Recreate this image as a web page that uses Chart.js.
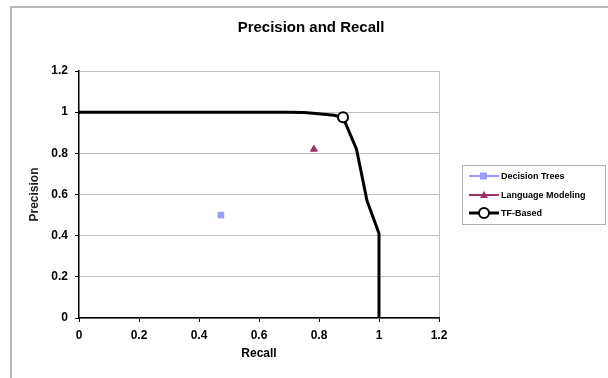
<!DOCTYPE html>
<html>
<head>
<meta charset="utf-8">
<script src="https://cdn.jsdelivr.net/npm/chart.js@4"></script>
<style>
  html, body { margin: 0; padding: 0; background: #fff; }
  #wrap { width: 608px; height: 378px; }
</style>
</head>
<body>
<div id="wrap"><canvas id="prChart" width="608" height="378"></canvas></div>
<script>
// === Data ===
const xTicks = [0, 0.2, 0.4, 0.6, 0.8, 1, 1.2];
const yTicks = [0, 0.2, 0.4, 0.6, 0.8, 1, 1.2];

const treesRecall = [0.473];
const treesPrecision = [0.50];

const lmRecall = [0.783];
const lmPrecision = [0.82];

const tfRecall = [0, 0.2, 0.4, 0.6, 0.7, 0.75, 0.78, 0.85, 0.88, 0.925, 0.96, 1.0, 1.0];
const tfPrecision = [1, 1, 1, 1, 1, 0.998, 0.995, 0.985, 0.975, 0.82, 0.57, 0.41, 0];
const tfMarked = [false, false, false, false, false, false, false, false, true, false, false, false, false];

const seriesNames = ["Decision Trees", "Language Modeling", "TF-Based"];

const FONT = "'Liberation Sans', Arial, sans-serif";

function toPoints(xs, ys) {
  return xs.map((x, i) => ({ x: x, y: ys[i] }));
}

// === Frame, title, axis titles, legend ===
const decorPlugin = {
  id: "decor",
  beforeDraw(chart) {
    const c = chart.ctx;
    c.save();
    c.strokeStyle = "#b8b8b8";
    c.lineWidth = 2;
    c.beginPath();
    c.moveTo(11, 400);
    c.lineTo(11, 7);
    c.lineTo(620, 7);
    c.stroke();
    c.restore();
  },
  afterDraw(chart) {
    const c = chart.ctx;
    const a = chart.chartArea;
    c.save();
    c.fillStyle = "#000";
    c.textAlign = "center";
    c.textBaseline = "middle";
    c.font = "bold 15px " + FONT;
    c.fillText("Precision and Recall", 311, 28);

    c.font = "bold 12px " + FONT;
    c.fillText("Recall", (a.left + a.right) / 2, 354);
    c.save();
    c.translate(35, (a.top + a.bottom) / 2);
    c.rotate(-Math.PI / 2);
    c.fillStyle = "#222";
    c.fillText("Precision", 0, 0);
    c.restore();

    // legend box
    c.strokeStyle = "#b0b0b0";
    c.lineWidth = 1;
    c.strokeRect(462.5, 165.5, 143, 59);
    c.font = "bold 9px " + FONT;
    c.textAlign = "left";
    const rows = [176, 195, 213];
    chart.data.datasets.forEach((ds, i) => {
      const y = rows[i];
      c.strokeStyle = ds.borderColor;
      c.lineWidth = i === 2 ? 3 : 2;
      c.beginPath();
      c.moveTo(469, y);
      c.lineTo(499, y);
      c.stroke();
      if (i === 0) {
        c.fillStyle = ds.backgroundColor;
        c.fillRect(480, y - 3.5, 7, 7);
      } else if (i === 1) {
        c.fillStyle = ds.backgroundColor;
        c.beginPath();
        c.moveTo(484, y - 4);
        c.lineTo(488, y + 3);
        c.lineTo(480, y + 3);
        c.closePath();
        c.fill();
      } else {
        c.fillStyle = "#fff";
        c.lineWidth = 2;
        c.beginPath();
        c.arc(484, y, 5, 0, Math.PI * 2);
        c.fill();
        c.stroke();
      }
      c.fillStyle = "#000";
      c.fillText(seriesNames[i], 501, y + 0.5);
    });
    c.restore();
  }
};

new Chart(document.getElementById("prChart").getContext("2d"), {
  type: "scatter",
  data: {
    datasets: [
      {
        label: seriesNames[0],
        data: toPoints(treesRecall, treesPrecision),
        pointStyle: "rect",
        pointRadius: 4,
        borderColor: "#9999ff",
        backgroundColor: "#9999ff",
        showLine: false,
      },
      {
        label: seriesNames[1],
        data: toPoints(lmRecall, lmPrecision),
        pointStyle: "triangle",
        pointRadius: 4,
        borderColor: "#993366",
        backgroundColor: "#993366",
        showLine: false,
      },
      {
        label: seriesNames[2],
        data: toPoints(tfRecall, tfPrecision),
        showLine: true,
        borderColor: "#000",
        borderWidth: 3,
        backgroundColor: "#fff",
        pointBorderColor: "#000",
        pointBorderWidth: 2,
        pointRadius: tfMarked.map(m => (m ? 5 : 0)),
        tension: 0,
      },
    ],
  },
  options: {
    responsive: false,
    animation: false,
    layout: { padding: { top: 71, right: 169, bottom: 0, left: 0 } },
    plugins: { legend: { display: false }, title: { display: false }, tooltip: { enabled: false } },
    scales: {
      x: {
        type: "linear",
        min: 0,
        max: 1.2,
        afterBuildTicks: (s) => { s.ticks = xTicks.map(v => ({ value: v })); },
        afterFit: (s) => { s.height = 60; },
        ticks: {
          font: { family: FONT, size: 12, weight: "bold" },
          color: "#000",
          padding: 6,
          callback: (v) => String(v),
        },
        grid: {
          drawOnChartArea: true,
          color: (ctx) => (ctx.tick && ctx.tick.value === 1.2 ? "#c0c0c0" : "rgba(0,0,0,0)"),
          tickColor: "#000",
          tickLength: 4,
        },
        border: { color: "#000", width: 1.5 },
      },
      y: {
        type: "linear",
        min: 0,
        max: 1.2,
        afterBuildTicks: (s) => { s.ticks = yTicks.map(v => ({ value: v })); },
        afterFit: (s) => { s.width = 79; },
        ticks: {
          font: { family: FONT, size: 12, weight: "bold" },
          color: "#000",
          padding: 7,
          callback: (v) => String(v),
        },
        grid: {
          color: "#c0c0c0",
          lineWidth: 1,
          tickColor: "#000",
          tickLength: 4,
        },
        border: { color: "#000", width: 1.5 },
      },
    },
  },
  plugins: [decorPlugin],
});
</script>
</body>
</html>
